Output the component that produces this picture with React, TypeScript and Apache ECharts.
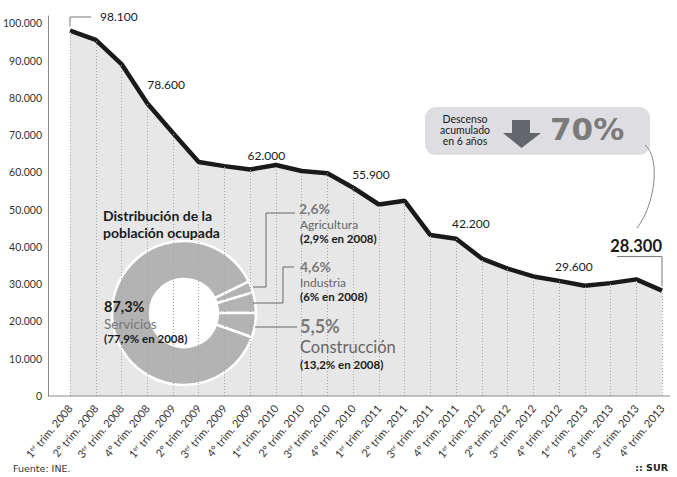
import React, { useEffect, useRef } from 'react';
import * as echarts from 'echarts';

// ---- data ----
const categories = [
  '1er trim. 2008', '2º trim. 2008', '3er trim. 2008', '4º trim. 2008',
  '1er trim. 2009', '2º trim. 2009', '3er trim. 2009', '4º trim. 2009',
  '1er trim. 2010', '2º trim. 2010', '3er trim. 2010', '4º trim. 2010',
  '1er trim. 2011', '2º trim. 2011', '3er trim. 2011', '4º trim. 2011',
  '1er trim. 2012', '2º trim. 2012', '3er trim. 2012', '4º trim. 2012',
  '1er trim. 2013', '2º trim. 2013', '3er trim. 2013', '4º trim. 2013',
];
const ocupados = [
  98100, 95600, 89100, 78600,
  70600, 62800, 61700, 60800,
  62000, 60400, 59800, 55900,
  51400, 52400, 43200, 42200,
  36900, 34200, 32100, 30900,
  29600, 30300, 31300, 28300,
];
const labelledPoints = [0, 3, 8, 11, 15, 20, 23];
const yTicks = { min: 0, max: 102000, step: 10000 };

const sectores = ['Agricultura', 'Industria', 'Construcción', 'Servicios'];
const cuota2013 = [2.6, 4.6, 5.5, 87.3];
const cuota2008 = [2.9, 6, 13.2, 77.9];
const descenso = 70;

const fmt = (v: number) => String(Math.round(v)).replace(/\B(?=(\d{3})+(?!\d))/g, '.');
const pct = (v: number) => String(v).replace('.', ',') + '%';

const F = 'Lato, "Noto Sans", sans-serif';

export default function App() {
  const ref = useRef<HTMLDivElement>(null);
  useEffect(() => {
    const chart = echarts.init(ref.current!, null, { renderer: 'svg' });
    chart.setOption({
      animation: false,
      backgroundColor: '#ffffff',
      grid: { left: 70, right: 15, top: 16, bottom: 81 },
      xAxis: {
        type: 'category',
        data: categories,
        boundaryGap: false,
        axisLine: { show: false },
        axisTick: { show: false },
        splitLine: { show: false },
        axisLabel: {
          interval: 0,
          rotate: 50,
          margin: 10,
          fontSize: 11,
          color: '#333',
          fontFamily: F,
          formatter: (v: string) => v.replace(/^(\d)(er)/, '$1{s|er}'),
          rich: { s: { fontSize: 6.5, verticalAlign: 'top', color: '#333', fontFamily: F } },
        },
      },
      yAxis: {
        type: 'value',
        min: yTicks.min,
        max: yTicks.max,
        interval: yTicks.step,
        offset: 22,
        axisLine: { show: true, lineStyle: { color: '#8a8a8a', width: 1 } },
        axisTick: { show: false },
        splitLine: { show: false },
        axisLabel: {
          margin: 6,
          fontSize: 10.5,
          color: '#333',
          fontFamily: F,
          showMaxLabel: false,
          formatter: (v: number) => (v % yTicks.step === 0 ? fmt(v) : ''),
        },
      },
      series: [
        {
          type: 'line',
          data: ocupados,
          symbol: 'none',
          z: 2,
          lineStyle: { color: '#1a1a1a', width: 4.5 },
          areaStyle: { color: '#e7e7e7', opacity: 1 },
          markLine: {
            silent: true,
            symbol: ['none', 'none'],
            label: { show: false },
            lineStyle: { color: '#a5a5a5', type: [1, 2], width: 1 },
            data: ocupados.map((v, i) => [
              { coord: [categories[i], 0] },
              { coord: [categories[i], v] },
            ]),
          },
        },
        {
          type: 'pie',
          z: 3,
          silent: true,
          center: [184, 313],
          radius: [34, 72],
          startAngle: 26,
          clockwise: true,
          label: { show: false },
          labelLine: { show: false },
          itemStyle: { color: '#b3b3b3', borderColor: '#ffffff', borderWidth: 2.5 },
          data: sectores.map((n, i) => ({ name: n, value: cuota2013[i] })),
        },
        {
          type: 'pie',
          z: 4,
          silent: true,
          center: [184, 313],
          radius: [0, 34],
          label: { show: false },
          labelLine: { show: false },
          itemStyle: { color: '#ffffff' },
          data: [{ name: 'hole', value: 1 }],
        },
      ],
    });

    const px = (i: number) => chart.convertToPixel({ seriesIndex: 0 }, [i, ocupados[i]]) as number[];
    const y0 = (chart.convertToPixel({ seriesIndex: 0 }, [0, 0]) as number[])[1];

    const labelSpec: Record<number, any> = {
      0: { dx: 30, dy: -14.5, align: 'left', size: 12, bold: false },
      3: { dx: 0, dy: -19, align: 'left', size: 12, bold: false },
      8: { dx: -9.5, dy: -9.5, align: 'center', size: 12, bold: false },
      11: { dx: -1, dy: -13.5, align: 'left', size: 12, bold: false },
      15: { dx: -4, dy: -15, align: 'left', size: 12, bold: false },
      20: { dx: -11, dy: -19, align: 'center', size: 12, bold: false },
      23: { dx: 0, dy: -45, align: 'right', size: 16.5, bold: true },
    };

    const els: any[] = [];
    const txt = (x: number, y: number, text: string, size: number, color: string, bold = false, align = 'left', family = F) =>
      els.push({
        type: 'text', x, y, z: 50, silent: true,
        style: { text, fontSize: size, fill: color, fontWeight: bold ? 'bold' : 'normal', fontFamily: family, textAlign: align, textVerticalAlign: 'middle' },
      });
    const poly = (points: number[][], color = '#666') =>
      els.push({ type: 'polyline', z: 50, silent: true, shape: { points }, style: { stroke: color, lineWidth: 1, fill: 'none' } });

    // bottom axis line
    els.push({ type: 'line', z: 50, silent: true, shape: { x1: 48, y1: y0, x2: 670, y2: y0 }, style: { stroke: '#8a8a8a', lineWidth: 1 } });

    labelledPoints.forEach((i) => {
      const [x, y] = px(i);
      const s = labelSpec[i];
      txt(x + s.dx, y + s.dy, fmt(ocupados[i]), s.size, '#1a1a1a', s.bold, s.align);
    });
    {
      const [x, y] = px(0);
      poly([[x, y - 4], [x, y - 13.5], [x + 21, y - 13.5]], '#777');
    }
    {
      const [x, y] = px(23);
      poly([[x - 45, y - 34], [x, y - 34], [x, y - 4]], '#777');
    }

    // donut block
    els.push({
      type: 'text', x: 103, y: 223.5, z: 50, silent: true,
      style: { text: 'Distribución de la\npoblación ocupada', fontSize: 14, lineHeight: 17, fill: '#1a1a1a', fontWeight: 'bold', fontFamily: F, textAlign: 'left', textVerticalAlign: 'middle' },
    });
    txt(104, 306.5, pct(cuota2013[3]), 14.5, '#1a1a1a', true);
    txt(104, 323.5, sectores[3], 13.5, '#777');
    txt(104, 338.5, '(' + pct(cuota2008[3]) + ' en 2008)', 11.5, '#1a1a1a', true);

    txt(299, 208.5, pct(cuota2013[0]), 14, '#7a7a7a', true);
    txt(300, 224.5, sectores[0], 12, '#666');
    txt(300, 238.5, '(' + pct(cuota2008[0]) + ' en 2008)', 11.5, '#1a1a1a', true);
    poly([[295, 213], [266, 213], [266, 287], [253, 287]]);

    txt(300, 266.5, pct(cuota2013[1]), 14, '#7a7a7a', true);
    txt(300, 282, sectores[1], 12, '#666');
    txt(300, 296, '(' + pct(cuota2008[1]) + ' en 2008)', 11.5, '#1a1a1a', true);
    poly([[294, 267], [283, 267], [283, 303], [253, 303]]);

    txt(300, 325.5, pct(cuota2013[2]), 18, '#7a7a7a', true);
    txt(300, 346.5, sectores[2], 16.5, '#666');
    txt(300, 364, '(' + pct(cuota2008[2]) + ' en 2008)', 11.5, '#1a1a1a', true);
    poly([[255, 327], [297, 327]]);

    // callout
    els.push({ type: 'rect', z: 49, silent: true, shape: { x: 425, y: 107, width: 225, height: 48, r: 11 }, style: { fill: '#dddde2' } });
    els.push({
      type: 'text', x: 465, y: 130, z: 50, silent: true,
      style: { text: 'Descenso\nacumulado\nen 6 años', fontSize: 10.5, lineHeight: 11, fill: '#1a1a1a', fontFamily: F, textAlign: 'center', textVerticalAlign: 'middle' },
    });
    els.push({
      type: 'polygon', z: 50, silent: true,
      shape: { points: [[512, 120], [530, 120], [530, 133], [541, 133], [521.5, 148], [503, 133], [512, 133]] },
      style: { fill: '#63676b' },
    });
    txt(550, 129, descenso + '%', 31, '#7b7b7b', true, 'left', '"DejaVu Sans", sans-serif');
    els.push({
      type: 'bezierCurve', z: 50, silent: true,
      shape: { x1: 645, y1: 145, cpx1: 661, cpy1: 158, cpx2: 655, cpy2: 205, x2: 637, y2: 228 },
      style: { stroke: '#888', lineWidth: 1, fill: 'none' },
    });

    // footer
    txt(13, 468, 'Fuente: INE.', 9.5, '#333', false, 'left', '"DejaVu Sans", sans-serif');
    txt(668, 467, ':: SUR', 9.5, '#222', true, 'right', '"DejaVu Sans", sans-serif');

    chart.setOption({ graphic: { elements: els } });

    return () => chart.dispose();
  }, []);
  return <div ref={ref} style={{ width: 677, height: 477, position: 'absolute', left: 0, top: 0 }} />;
}
